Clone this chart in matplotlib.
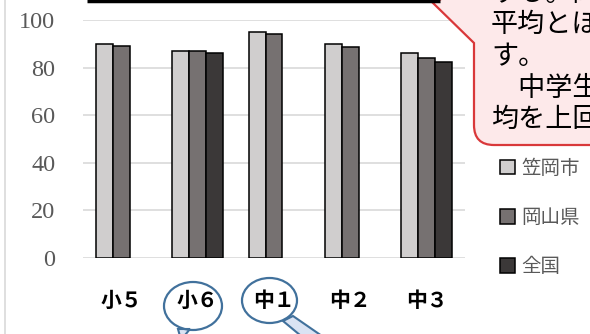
import numpy as np
import matplotlib.pyplot as plt
from matplotlib.patches import Ellipse, PathPatch, Polygon
from matplotlib.path import Path

plt.rcParams['font.family'] = ['Noto Sans CJK JP', 'DejaVu Sans']

grades = ["小５", "小６", "中１", "中２", "中３"]
kasaoka = [90, 87, 95, 90, 86]
okayama = [89, 87, 94, 88.5, 84]
zenkoku = [np.nan, 86, np.nan, np.nan, 82.5]
series_names = ["笠岡市", "岡山県", "全国"]
series_colors = ["#D0CECE", "#767171", "#3B3838"]
yticks = [0, 20, 40, 60, 80, 100]

callout_lines = ["する。岡山県や全国の", "平均とほぼ同じで", "す。", "　中学生は、全国平", "均を上回っています。"]

W, H = 590, 334
fig = plt.figure(figsize=(W / 100, H / 100), dpi=100)
fig.patch.set_facecolor("white")

# main bar chart, placed in pixel terms
ax = fig.add_axes([83 / W, 1 - 258 / H, (465 - 83) / W, (258 - 20) / H])
x = np.arange(len(grades))
bw = 0.222
bars = []
for i, (vals, name, col) in enumerate(zip([kasaoka, okayama, zenkoku], series_names, series_colors)):
    b = ax.bar(x + (i - 1) * bw, vals, bw, color=col, edgecolor="black",
               linewidth=1.1, label=name, zorder=3)
    bars.append(b)

ax.set_xlim(-0.5, len(grades) - 0.5)
ax.set_ylim(0, 100)
ax.set_yticks(yticks, [str(v) for v in yticks])
ax.set_xticks(x, grades)
ax.tick_params(axis="y", length=0, pad=20, labelsize=17.5, labelcolor="#595959",
               labelfontfamily="Liberation Serif")
ax.tick_params(axis="x", length=0, pad=23, labelsize=15, labelcolor="black")
for t in ax.get_xticklabels():
    t.set_fontweight("bold")
ax.grid(axis="y", color="#D9D9D9", linewidth=1.2, zorder=0)
for s in ax.spines.values():
    s.set_visible(False)

fig.legend(handles=bars, labels=series_names, loc="upper left",
           bbox_to_anchor=(500 / W, 1 - 158 / H), frameon=False,
           prop={"size": 14}, labelcolor="#595959",
           handlelength=0.75, handleheight=0.75, handletextpad=0.35,
           labelspacing=1.45, borderaxespad=0, borderpad=0)

# overlay shapes drawn in pixel coordinates
ov = fig.add_axes([0, 0, 1, 1], zorder=10)
ov.set_xlim(0, W)
ov.set_ylim(H, 0)
ov.axis("off")

ov.plot([5, 5], [0, H], color="#D9D9D9", linewidth=1.2)
ov.plot([87, 440], [1, 1], color="black", linewidth=2.5, solid_capstyle="butt")

verts = [(433, 3), (474, 43), (474, 125), (474, 145), (494, 145),
         (620, 145), (620, -20), (480, -20), (433, 3)]
codes = [Path.MOVETO, Path.LINETO, Path.LINETO, Path.CURVE3, Path.CURVE3,
         Path.LINETO, Path.LINETO, Path.LINETO, Path.CLOSEPOLY]
ov.add_patch(PathPatch(Path(verts, codes), facecolor="#FDE9EA",
                       edgecolor="#D9383A", linewidth=1.6))
for k, line in enumerate(callout_lines):
    ov.text(491, -7 + 31.7 * k, line, fontsize=19.5, color="black",
            ha="left", va="center")

blue = "#41719C"
ov.add_patch(Polygon([(178, 329), (190, 329), (181, 340)], closed=True,
                     facecolor="#DAE3F3", edgecolor=blue, linewidth=1.5))
ov.add_patch(Polygon([(283, 321), (293, 316), (335, 345), (312, 345)], closed=True,
                     facecolor="#DAE3F3", edgecolor=blue, linewidth=1.5))
ov.add_patch(Ellipse((193, 306), 58, 48, facecolor="none", edgecolor=blue, linewidth=1.6))
ov.add_patch(Ellipse((269.5, 300.5), 55, 45, facecolor="none", edgecolor=blue, linewidth=1.6))

fig.savefig("out.png", dpi=100)
